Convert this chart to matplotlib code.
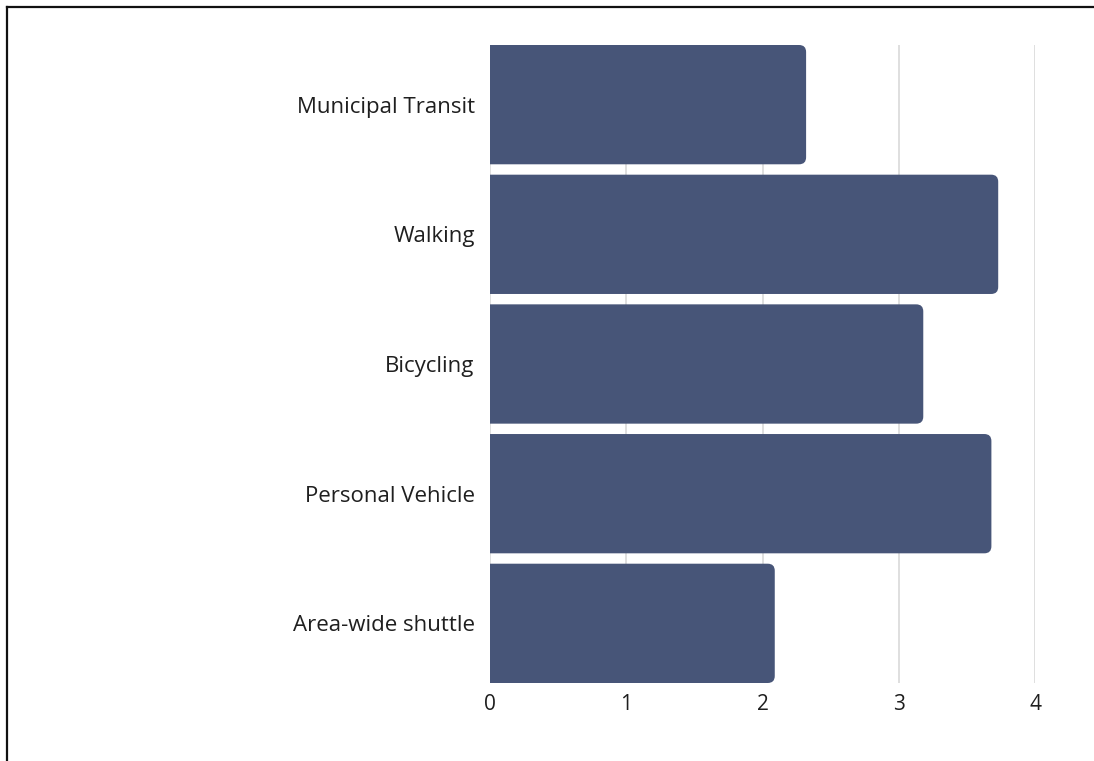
import matplotlib.pyplot as plt
from matplotlib.lines import Line2D
from matplotlib.patches import FancyBboxPatch

modes = ["Municipal Transit", "Walking", "Bicycling", "Personal Vehicle", "Area-wide shuttle"]
scores = [2.32, 3.73, 3.18, 3.68, 2.09]
x_ticks = [0, 1, 2, 3, 4]

bar_color = "#475578"
text_color = "#1f1f1f"
bar_height = 0.92

plt.rcParams["font.family"] = ["Open Sans", "DejaVu Sans"]

fig = plt.figure(figsize=(10.94, 7.61), dpi=100)
W, H = 1094, 761
ax = fig.add_axes([490 / W, 1 - 683 / H, (1035 - 490) / W, (683 - 45) / H])

n = len(modes)
ys = list(range(n))[::-1]
ax.set_xlim(0, 4)
ax.set_ylim(-bar_height / 2, n - 1 + bar_height / 2)

# pixels per data unit, so the rounded corners come out circular
fig.canvas.draw()
bbox = ax.get_window_extent()
px_x = bbox.width / 4
px_y = bbox.height / (n - 1 + bar_height)
radius_px = 7
r = radius_px / px_x
aspect = px_x / px_y

for y, v in zip(ys, scores):
    # start left of zero so the axes clip gives a square left end
    start = -0.3
    ax.add_patch(FancyBboxPatch((start, y - bar_height / 2), v - start, bar_height,
                                boxstyle=f"round,pad=0,rounding_size={r}",
                                mutation_aspect=aspect, linewidth=0,
                                facecolor=bar_color, zorder=3))

ax.set_yticks(ys)
ax.set_yticklabels(modes, fontsize=16, color=text_color)
ax.set_xticks(x_ticks)
ax.set_xticklabels([str(t) for t in x_ticks], fontsize=15, color=text_color)
ax.tick_params(axis="both", length=0)
ax.tick_params(axis="y", pad=11)
ax.tick_params(axis="x", pad=8)

ax.grid(axis="x", color="#d9d9d9", linewidth=1.2, zorder=0)
ax.set_axisbelow(True)
for s in ax.spines.values():
    s.set_visible(False)

# frame lines along the top and left of the figure
fig.add_artist(Line2D([7 / W, 1.05], [1 - 7 / H, 1 - 7 / H], transform=fig.transFigure,
                      color="#111111", linewidth=1.6))
fig.add_artist(Line2D([7 / W, 7 / W], [1 - 7 / H, -0.05], transform=fig.transFigure,
                      color="#111111", linewidth=1.6))

fig.savefig("out.png", dpi=100, facecolor="white")
